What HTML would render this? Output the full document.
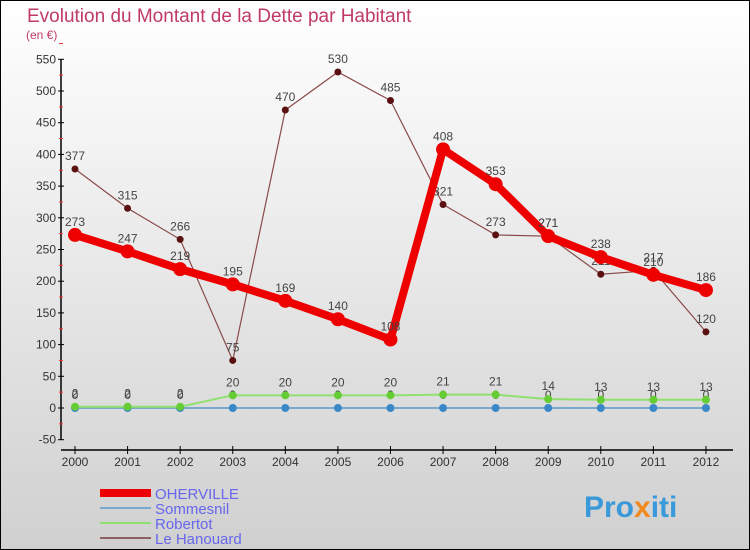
<!DOCTYPE html>
<html><head><meta charset="utf-8"><style>
body{margin:0}
#c{width:750px;height:550px;position:relative;box-sizing:border-box;border:1px solid #000;background:linear-gradient(#fff,#d0d0d0);font-family:"Liberation Sans",sans-serif;overflow:hidden}
</style></head><body>
<div id="c">
<svg id="s" width="750" height="550" style="position:absolute;left:-1px;top:-1px" font-family="Liberation Sans, sans-serif">
<text x="27" y="22" font-size="19" fill="#c0396a">Evolution du Montant de la Dette par Habitant</text>
<text x="26" y="39" font-size="12" fill="#c0396a">(en €)</text>
<g id="axes"></g><g id="series"></g><g id="legend"></g>
<text x="584" y="517" font-size="30" font-weight="bold" fill="#3a9ad9">Pro<tspan fill="#f08a20">x</tspan>iti</text>
</svg>
</div>
<script>
const years=[2000,2001,2002,2003,2004,2005,2006,2007,2008,2009,2010,2011,2012];
const oherville=[273,247,219,195,169,140,108,408,353,271,238,210,186];
const sommesnil=[0,0,0,0,0,0,0,0,0,0,0,0,0];
const robertot=[2,2,2,20,20,20,20,21,21,14,13,13,13];
const hanouard=[377,315,266,75,470,530,485,321,273,271,211,217,120];
const yTicks=[-50,0,50,100,150,200,250,300,350,400,450,500,550];
const NS="http://www.w3.org/2000/svg";
const X=i=>75+i*52.58;
const Y=v=>408-v*0.634;
function mk(tag,at,parent){const e=document.createElementNS(NS,tag);for(const k in at)e.setAttribute(k,at[k]);parent.appendChild(e);return e;}
const ax=document.getElementById('axes');
let l=mk('line',{x1:61,y1:Y(550),x2:61,y2:Y(-50),stroke:'#000','stroke-width':1.5},ax);


yTicks.forEach(v=>{
 let t=mk('line',{x1:58,x2:64,y1:Y(v),y2:Y(v),stroke:'#000'},ax);
 
 
 let m=mk('line',{x1:59,x2:63,y1:Y(v+25),y2:Y(v+25),stroke:'#f33'},ax);
 
 
 let tx=mk('text',{x:56,y:Y(v)+4,'text-anchor':'end','font-size':12,fill:'#333'},ax);
 tx.textContent=v;
 
 
});
let xa=mk('line',{x1:61,y1:450,x2:733,y2:450,stroke:'#000','stroke-width':1.5},ax);


years.forEach((y,i)=>{
 let t=mk('line',{x1:X(i),x2:X(i),y1:446,y2:454,stroke:'#000'},ax);
 
 
 let tx=mk('text',{x:X(i),y:466,'text-anchor':'middle','font-size':12,fill:'#333'},ax);
 tx.textContent=y;
 
 
});
const sg=document.getElementById('series');
function series(name,data,color,w,r,dot,labels){
 const g=mk('g',{},sg);
 
 
 const p=mk('polyline',{points:data.map((v,i)=>X(i)+','+Y(v)).join(' '),fill:'none',stroke:color,'stroke-width':w},g);
 
 
 data.forEach((v,i)=>{
  const c=mk('circle',{cx:X(i),cy:Y(v),r:r,fill:dot},g);
  
  
  if(labels){const t=mk('text',{x:X(i),y:Y(v)-9,'text-anchor':'middle','font-size':12,fill:'#444'},g);
  t.textContent=v;
  
  }
 });
}
series('sommesnil',sommesnil,'#7aa9d0',2,4,'#3a88c8',true);
series('robertot',robertot,'#90e070',2,4,'#66cc33',true);
series('le-hanouard',hanouard,'#8a4a4a',1.2,3.5,'#5a1010',true);
series('oherville',oherville,'#ee0000',8,7,'#ee0000',true);
const lg=document.getElementById('legend');
const items=[['OHERVILLE','#ee0000',8],['Sommesnil','#7aa9d0',2],['Robertot','#90e070',2],['Le Hanouard','#8a6060',2]];
items.forEach((it,i)=>{
 const y=493+i*15;
 const g=mk('g',{},lg);
 
 
 const ln=mk('line',{x1:100,x2:151,y1:y,y2:y,stroke:it[1],'stroke-width':it[2]},g);
 
 
 const t=mk('text',{x:155,y:y+6,'font-size':15,fill:'#6666ee'},g);
 t.textContent=it[0];
 
 
});
</script>
</body></html>
